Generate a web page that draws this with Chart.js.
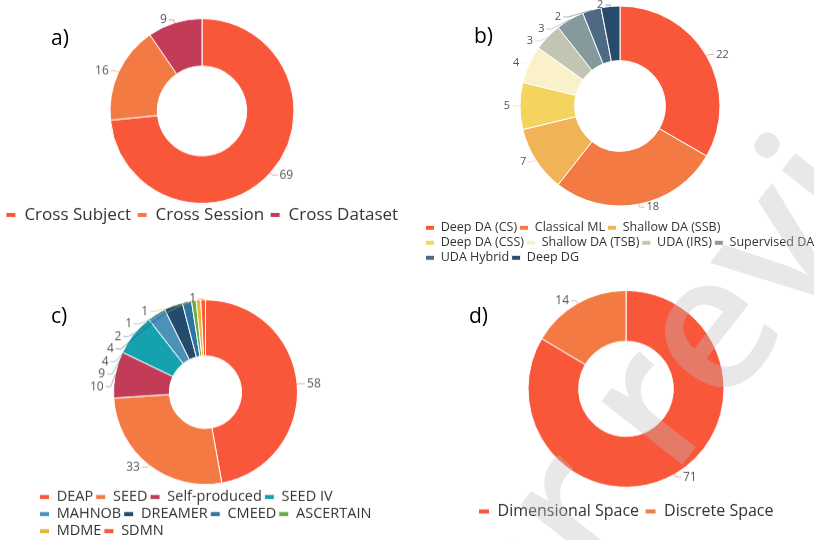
<!DOCTYPE html>
<html>
<head>
<meta charset="utf-8">
<script src="https://cdn.jsdelivr.net/npm/chart.js@4.4.0/dist/chart.umd.min.js"></script>
<style>
    body { margin: 0; width: 814px; height: 540px; overflow: hidden; background: #fff; position: relative; font-family: "Open Sans", sans-serif; }
    .quadro { position: absolute; }
    .letra { position: absolute; font-size: 21px; line-height: 1; color: #000; }
    .marca { position: absolute; left: 612px; top: 436px; transform: translate(-50%, -50%) rotate(-52deg);
             font-size: 190px; font-weight: 600; line-height: 1; white-space: nowrap;
             color: rgba(190, 190, 190, 0.35); pointer-events: none; }
</style>
</head>
<body>
<div class="quadro" style="left:-10px;top:0;width:424px;height:232.5px"><canvas id="graficoA"></canvas></div>
<div class="quadro" style="left:423px;top:-10px;width:394px;height:284px"><canvas id="graficoB"></canvas></div>
<div class="quadro" style="left:37px;top:280px;width:400px;height:267.5px"><canvas id="graficoC"></canvas></div>
<div class="quadro" style="left:440px;top:270px;width:372px;height:258.5px"><canvas id="graficoD"></canvas></div>

<div class="letra" style="left:51px;top:27px">a)</div>
<div class="letra" style="left:474px;top:25px">b)</div>
<div class="letra" style="left:51px;top:305px">c)</div>
<div class="letra" style="left:469px;top:305px">d)</div>

<div class="marca">Under review</div>

<script>
// a) tipo de avaliação
const categoriasA = ['Cross Subject', 'Cross Session', 'Cross Dataset'];
const valoresA = [69, 16, 9];
const coresA = ['#F9573A', '#F47A43', '#C23B57'];

// b) métodos
const categoriasB = ['Deep DA (CS)', 'Classical ML', 'Shallow DA (SSB)', 'Deep DA (CSS)', 'Shallow DA (TSB)',
                     'UDA (IRS)', 'Supervised DA', 'UDA Hybrid', 'Deep DG'];
const valoresB = [22, 18, 7, 5, 4, 3, 3, 2, 2];
const coresB = ['#F9573A', '#F47A43', '#F0B355', '#F4D35E', '#FAF0CA', '#C2C5B2', '#849A9C', '#4D6A82', '#284B6C'];

// c) bases de dados
const categoriasC = ['DEAP', 'SEED', 'Self-produced', 'SEED IV', 'MAHNOB', 'DREAMER', 'CMEED', 'ASCERTAIN', 'MDME', 'SDMN'];
const valoresC = [58, 33, 10, 9, 4, 4, 2, 1, 1, 1];
const coresC = ['#F9573A', '#F47A43', '#C23B57', '#14A2AF', '#4A92B8', '#244A6E', '#2D74A5', '#6BAA48', '#E3B737', '#F9573A'];

// d) espaço emocional
const categoriasD = ['Dimensional Space', 'Discrete Space'];
const valoresD = [71, 14];
const coresD = ['#F9573A', '#F47A43'];

const FONTE = '"Open Sans", sans-serif';

// rótulos de valor fora da rosca, com linha de chamada
const rotulosExternos = {
    id: 'rotulosExternos',
    afterDatasetsDraw(chart, args, opts) {
        const arcos = chart.getDatasetMeta(0).data;
        if (!arcos.length) return;
        const valores = chart.data.datasets[0].data;
        const cores = chart.data.datasets[0].backgroundColor;
        const { x: cx, y: cy, outerRadius: R } = arcos[0].getProps(['x', 'y', 'outerRadius'], true);
        const rl = R + opts.distancia;

        const itens = arcos.map((arco, i) => {
            const p = arco.getProps(['startAngle', 'endAngle'], true);
            const meio = (p.startAngle + p.endAngle) / 2;
            const yIdeal = cy + rl * Math.sin(meio);
            return { i, meio, yIdeal, direita: Math.cos(meio) >= 0, y: Math.max(yIdeal, cy - R - 1), empurrado: false };
        });

        // empilha de cima para baixo os rótulos que se sobrepõem
        [true, false].forEach(lado => {
            const grupo = itens.filter(it => it.direita === lado).sort((a, b) => a.yIdeal - b.yIdeal);
            for (let k = 1; k < grupo.length; k++) {
                if (grupo[k].y < grupo[k - 1].y + opts.espaco) {
                    grupo[k].y = grupo[k - 1].y + opts.espaco;
                    grupo[k].empurrado = true;
                }
            }
        });

        const ctx = chart.ctx;
        ctx.save();
        ctx.font = `${opts.tamanho}px ${FONTE}`;
        ctx.textBaseline = 'middle';
        itens.forEach(it => {
            const sinal = it.direita ? 1 : -1;
            let x;
            if (it.empurrado) {
                const dy = it.y - cy;
                x = cx + sinal * Math.sqrt(Math.max(rl * rl - dy * dy, 0));
            } else {
                x = cx + rl * Math.cos(it.meio);
            }
            const x0 = cx + R * Math.cos(it.meio);
            const y0 = cy + R * Math.sin(it.meio);
            ctx.strokeStyle = cores[it.i] + '80';
            ctx.lineWidth = 1;
            ctx.beginPath();
            ctx.moveTo(x0, y0);
            ctx.lineTo(x, it.y);
            ctx.lineTo(x + sinal * 5, it.y);
            ctx.stroke();
            ctx.fillStyle = '#555';
            ctx.textAlign = it.direita ? 'left' : 'right';
            ctx.fillText(String(valores[it.i]), x + sinal * 7, it.y);
        });
        ctx.restore();
    }
};

// deixa a legenda quebrar as linhas numa largura própria, independente da rosca
const larguraLegenda = {
    id: 'larguraLegenda',
    afterLayout(chart, args, opts) {
        if (!opts.largura) return;
        const legenda = chart.legend;
        legenda.maxWidth = opts.largura;
        legenda.fit();
        legenda.right = legenda.left + legenda.width;
    }
};

function criarRosca(id, categorias, valores, cores, cfg) {
    const ctx = document.getElementById(id).getContext('2d');
    return new Chart(ctx, {
        type: 'doughnut',
        data: {
            labels: categorias,
            datasets: [{
                data: valores,
                backgroundColor: cores,
                borderColor: '#fff',
                borderWidth: 1
            }]
        },
        options: {
            responsive: true,
            maintainAspectRatio: false,
            animation: false,
            radius: cfg.raio,
            cutout: cfg.furo,
            layout: { padding: { top: cfg.topo, right: cfg.direita || 0 } },
            plugins: {
                legend: {
                    position: 'bottom',
                    align: cfg.alinhar,
                    labels: {
                        boxWidth: cfg.caixa,
                        boxHeight: 5,
                        padding: cfg.espLegenda,
                        color: '#333',
                        font: { family: FONTE, size: cfg.tamLegenda }
                    }
                },
                tooltip: { enabled: false },
                rotulosExternos: { distancia: 3, espaco: cfg.espaco, tamanho: cfg.tamRotulo },
                larguraLegenda: { largura: cfg.larguraLegenda }
            }
        },
        plugins: [rotulosExternos, larguraLegenda]
    });
}

criarRosca('graficoA', categoriasA, valoresA, coresA,
    { raio: 92, furo: 43, topo: 21.5, alinhar: 'center', caixa: 10, espLegenda: 6, tamLegenda: 17, espaco: 13, tamRotulo: 12 });
criarRosca('graficoB', categoriasB, valoresB, coresB,
    { raio: 100, furo: 51, topo: 3, alinhar: 'start', caixa: 9, espLegenda: 2.5, tamLegenda: 12.5, espaco: 12, tamRotulo: 11,
      larguraLegenda: 398 });
criarRosca('graficoC', categoriasC, valoresC, coresC,
    { raio: 92, furo: 37, topo: 17, direita: 63, alinhar: 'start', caixa: 10, espLegenda: 2.5, tamLegenda: 14.5, espaco: 12.5, tamRotulo: 12,
      larguraLegenda: 360 });
criarRosca('graficoD', categoriasD, valoresD, coresD,
    { raio: 98, furo: 52, topo: 10.25, alinhar: 'center', caixa: 11, espLegenda: 6, tamLegenda: 16, espaco: 13, tamRotulo: 12 });
</script>
</body>
</html>
